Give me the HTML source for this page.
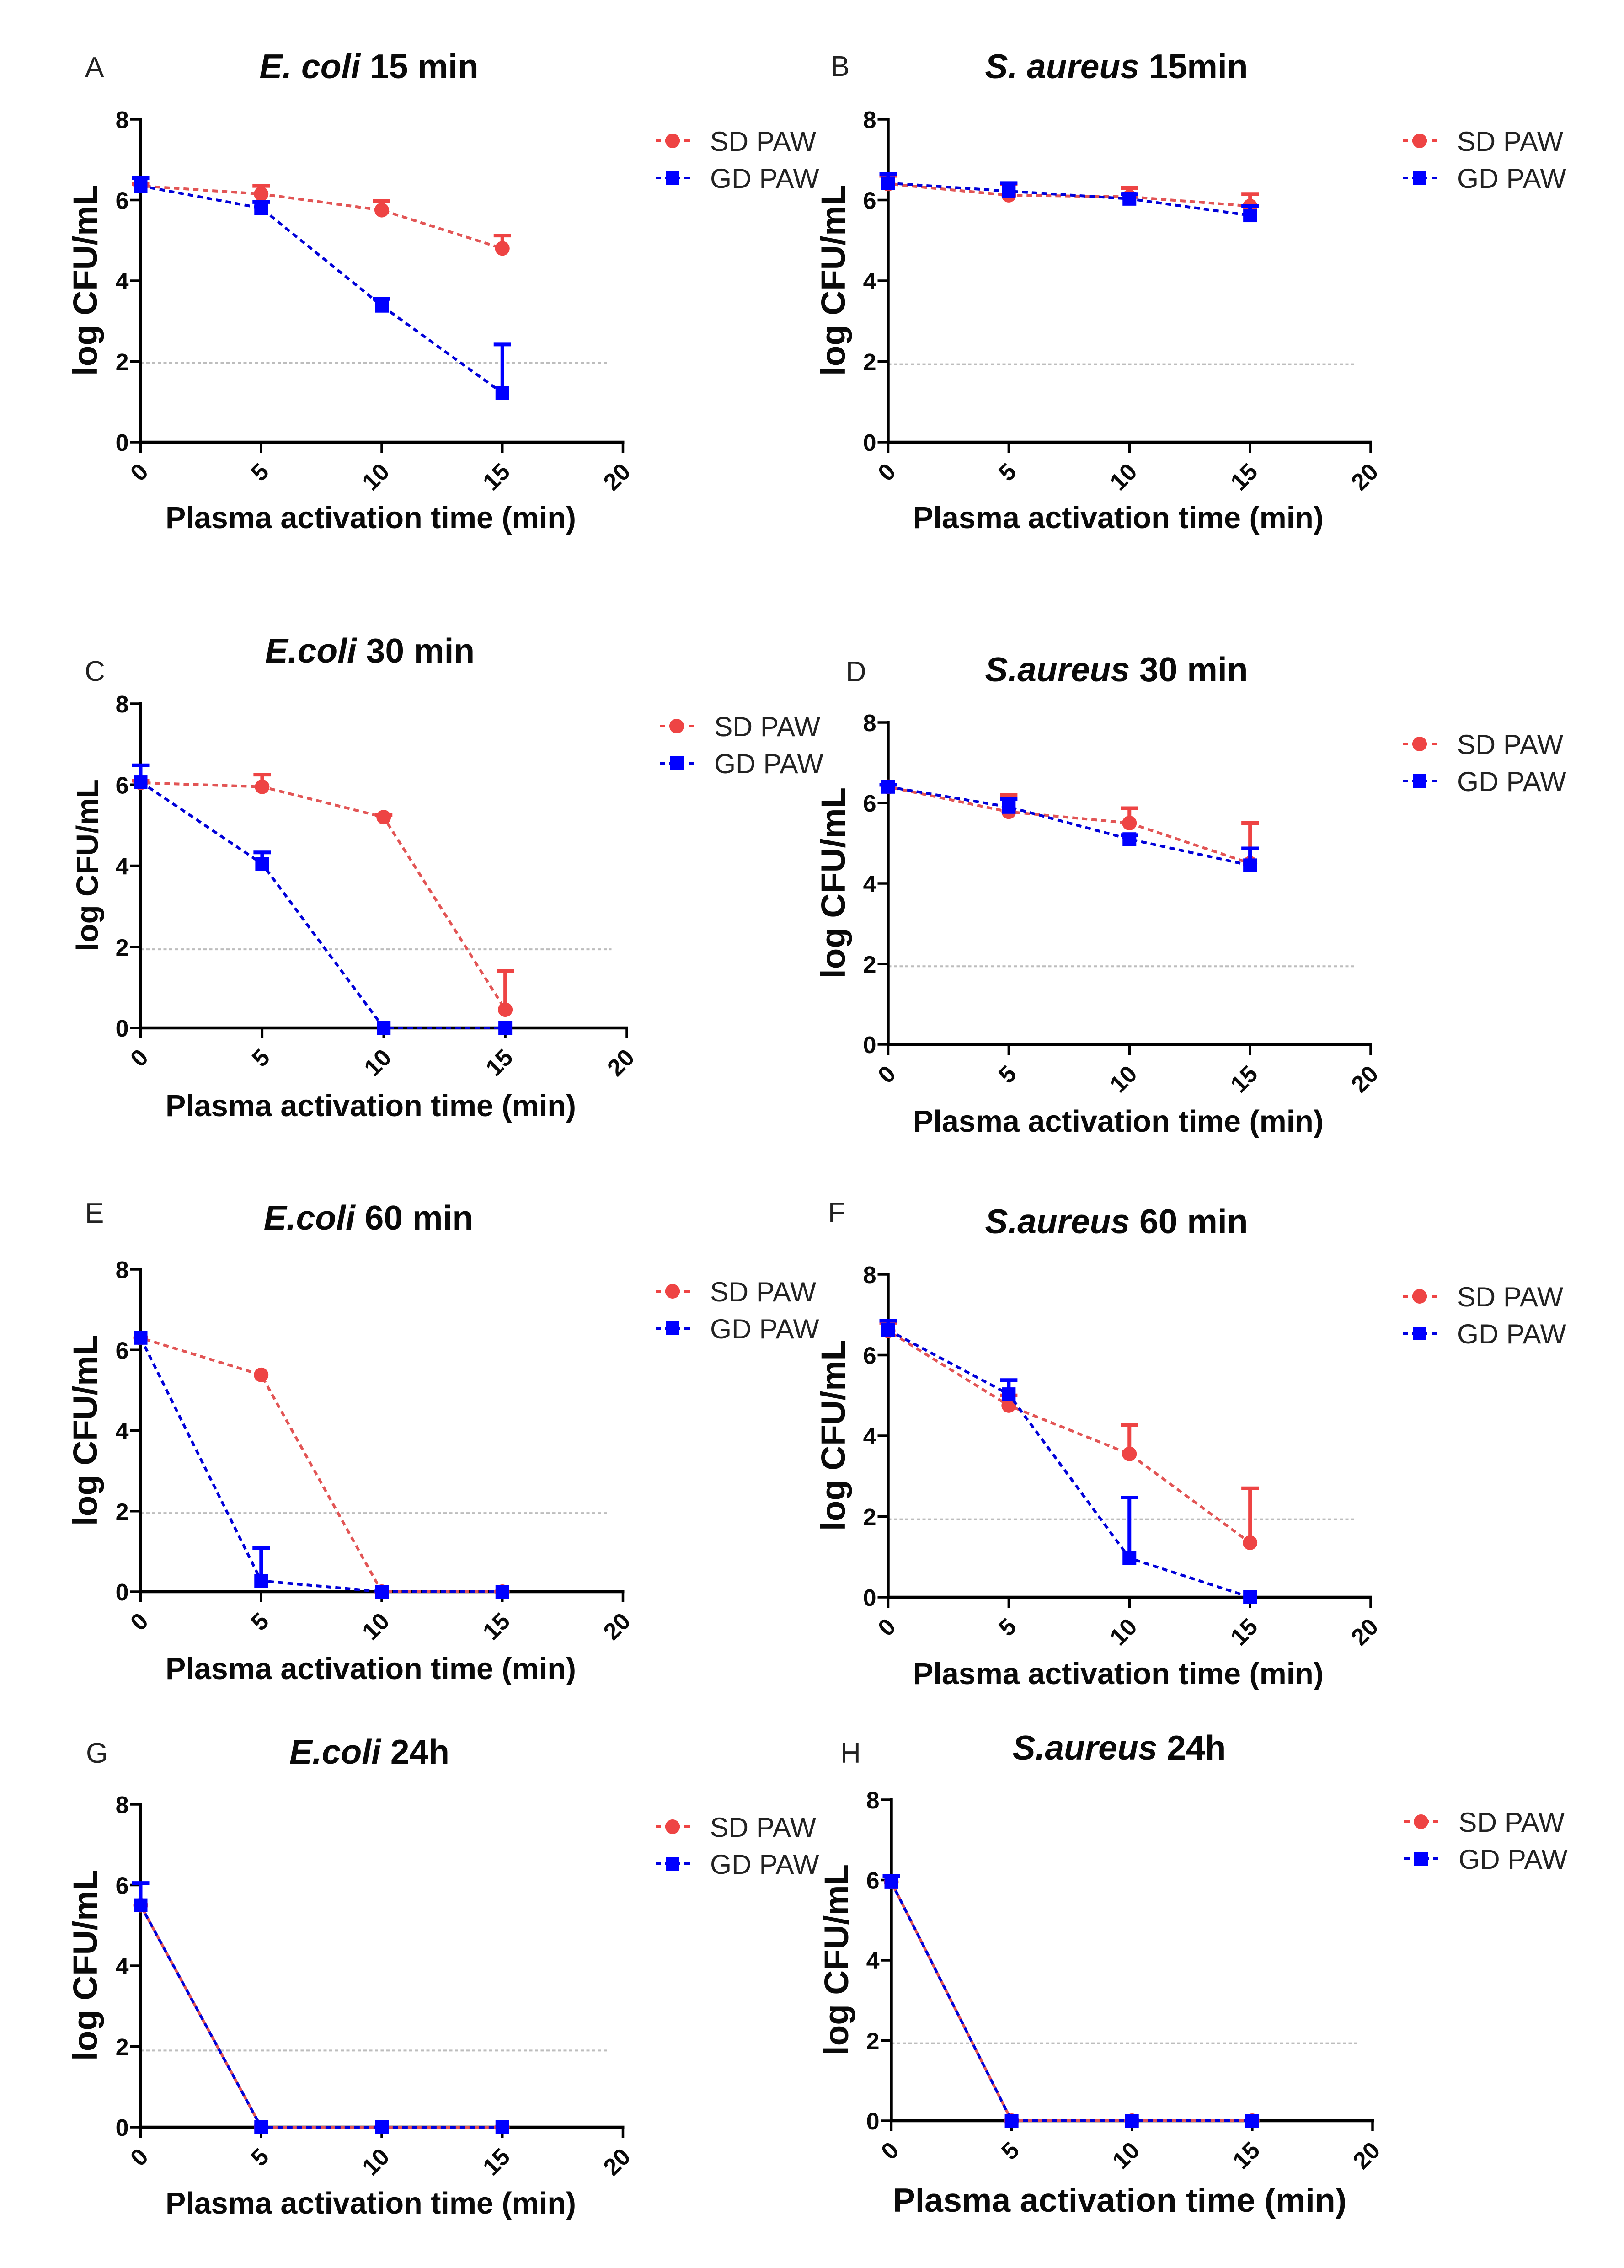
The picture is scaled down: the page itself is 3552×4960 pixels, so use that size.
<!DOCTYPE html>
<html lang="en">
<head>
<meta charset="utf-8">
<title>Bacterial survival versus plasma activation time</title>
<style>
html,body{margin:0;padding:0;background:#fff;}
svg{display:block;}
text{font-family:"Liberation Sans",Arial,sans-serif;fill:#0a0a0a;}
.letter{font-size:62px;fill:#222;}
.title{font-size:75px;font-weight:bold;text-anchor:middle;}
.title tspan.sp{font-style:italic;}
.xtitle{font-size:66.5px;font-weight:bold;text-anchor:middle;}
.ytitle{font-size:74.5px;font-weight:bold;text-anchor:middle;}
.legtext{font-size:60.5px;fill:#222;}
.tick{font-size:52px;font-weight:bold;}
.lg-r{stroke:#ee4444;stroke-width:6;stroke-dasharray:12 9;fill:none;}
.lg-b{stroke:#0000e0;stroke-width:6;stroke-dasharray:12 9;fill:none;}
</style>
</head>
<body>
<svg id="figure" xmlns="http://www.w3.org/2000/svg" width="3552" height="4960" viewBox="0 0 3552 4960">
<rect x="0" y="0" width="3552" height="4960" fill="#fff"/>

<g>
<text class="letter" x="186" y="168">A</text>
<text class="title" x="807" y="171"><tspan class="sp">E. coli</tspan> 15 min</text>
<text class="xtitle" x="811" y="1155">Plasma activation time (min)</text>
<text class="ytitle" transform="translate(212 613) rotate(-90)">log CFU/mL</text>
</g>
<g>
<text class="letter" x="1817" y="166">B</text>
<text class="title" x="2442" y="171"><tspan class="sp">S. aureus</tspan> 15min</text>
<text class="xtitle" x="2446" y="1155">Plasma activation time (min)</text>
<text class="ytitle" transform="translate(1848 613) rotate(-90)">log CFU/mL</text>
</g>
<g>
<text class="letter" x="185" y="1489">C</text>
<text class="title" x="809" y="1449"><tspan class="sp">E.coli</tspan> 30 min</text>
<text class="xtitle" x="811" y="2441">Plasma activation time (min)</text>
<text class="ytitle" style="font-size:67px" transform="translate(214 1892) rotate(-90)">log CFU/mL</text>
</g>
<g>
<text class="letter" x="1850" y="1490">D</text>
<text class="title" x="2442" y="1490"><tspan class="sp">S.aureus</tspan> 30 min</text>
<text class="xtitle" x="2446" y="2475">Plasma activation time (min)</text>
<text class="ytitle" transform="translate(1848 1931) rotate(-90)">log CFU/mL</text>
</g>
<g>
<text class="letter" x="186" y="2674">E</text>
<text class="title" x="806" y="2689"><tspan class="sp">E.coli</tspan> 60 min</text>
<text class="xtitle" x="811" y="3672">Plasma activation time (min)</text>
<text class="ytitle" transform="translate(212 3128) rotate(-90)">log CFU/mL</text>
</g>
<g>
<text class="letter" x="1811" y="2673">F</text>
<text class="title" x="2442" y="2697"><tspan class="sp">S.aureus</tspan> 60 min</text>
<text class="xtitle" x="2446" y="3683">Plasma activation time (min)</text>
<text class="ytitle" transform="translate(1848 3139) rotate(-90)">log CFU/mL</text>
</g>
<g>
<text class="letter" x="188" y="3855">G</text>
<text class="title" x="808" y="3857"><tspan class="sp">E.coli</tspan> 24h</text>
<text class="xtitle" x="811" y="4841">Plasma activation time (min)</text>
<text class="ytitle" transform="translate(212 4298) rotate(-90)">log CFU/mL</text>
</g>
<g>
<text class="letter" x="1838" y="3855">H</text>
<text class="title" x="2448" y="3848"><tspan class="sp">S.aureus</tspan> 24h</text>
<text class="xtitle" style="font-size:73.5px" x="2449" y="4837">Plasma activation time (min)</text>
<text class="ytitle" transform="translate(1855 4286) rotate(-90)">log CFU/mL</text>
</g>

<g transform="translate(1471 308)">
<line class="lg-r" x1="-37" y1="0" x2="38" y2="0"/><circle r="16" fill="#ee4444"/>
<text class="legtext" x="82" y="22">SD PAW</text>
<line class="lg-b" x1="-37" y1="81" x2="38" y2="81"/><rect x="-15" y="66" width="30" height="30" fill="#0000ff"/>
<text class="legtext" x="82" y="103">GD PAW</text>
</g>
<g transform="translate(3105 308)">
<line class="lg-r" x1="-37" y1="0" x2="38" y2="0"/><circle r="16" fill="#ee4444"/>
<text class="legtext" x="82" y="22">SD PAW</text>
<line class="lg-b" x1="-37" y1="81" x2="38" y2="81"/><rect x="-15" y="66" width="30" height="30" fill="#0000ff"/>
<text class="legtext" x="82" y="103">GD PAW</text>
</g>
<g transform="translate(1480 1588)">
<line class="lg-r" x1="-37" y1="0" x2="38" y2="0"/><circle r="16" fill="#ee4444"/>
<text class="legtext" x="82" y="22">SD PAW</text>
<line class="lg-b" x1="-37" y1="81" x2="38" y2="81"/><rect x="-15" y="66" width="30" height="30" fill="#0000ff"/>
<text class="legtext" x="82" y="103">GD PAW</text>
</g>
<g transform="translate(3105 1627)">
<line class="lg-r" x1="-37" y1="0" x2="38" y2="0"/><circle r="16" fill="#ee4444"/>
<text class="legtext" x="82" y="22">SD PAW</text>
<line class="lg-b" x1="-37" y1="81" x2="38" y2="81"/><rect x="-15" y="66" width="30" height="30" fill="#0000ff"/>
<text class="legtext" x="82" y="103">GD PAW</text>
</g>
<g transform="translate(1471 2824)">
<line class="lg-r" x1="-37" y1="0" x2="38" y2="0"/><circle r="16" fill="#ee4444"/>
<text class="legtext" x="82" y="22">SD PAW</text>
<line class="lg-b" x1="-37" y1="81" x2="38" y2="81"/><rect x="-15" y="66" width="30" height="30" fill="#0000ff"/>
<text class="legtext" x="82" y="103">GD PAW</text>
</g>
<g transform="translate(3105 2835)">
<line class="lg-r" x1="-37" y1="0" x2="38" y2="0"/><circle r="16" fill="#ee4444"/>
<text class="legtext" x="82" y="22">SD PAW</text>
<line class="lg-b" x1="-37" y1="81" x2="38" y2="81"/><rect x="-15" y="66" width="30" height="30" fill="#0000ff"/>
<text class="legtext" x="82" y="103">GD PAW</text>
</g>
<g transform="translate(1471 3995)">
<line class="lg-r" x1="-37" y1="0" x2="38" y2="0"/><circle r="16" fill="#ee4444"/>
<text class="legtext" x="82" y="22">SD PAW</text>
<line class="lg-b" x1="-37" y1="81" x2="38" y2="81"/><rect x="-15" y="66" width="30" height="30" fill="#0000ff"/>
<text class="legtext" x="82" y="103">GD PAW</text>
</g>
<g transform="translate(3108 3984)">
<line class="lg-r" x1="-37" y1="0" x2="38" y2="0"/><circle r="16" fill="#ee4444"/>
<text class="legtext" x="82" y="22">SD PAW</text>
<line class="lg-b" x1="-37" y1="81" x2="38" y2="81"/><rect x="-15" y="66" width="30" height="30" fill="#0000ff"/>
<text class="legtext" x="82" y="103">GD PAW</text>
</g>
</svg>

<script>
// Shared axis data
const timePoints = [0, 5, 10, 15];
const xTickValues = [0, 5, 10, 15, 20];
const yTickValues = [0, 2, 4, 6, 8];
const xMax = 20;
const yMax = 8;
const thresholdEnd = 19.37;

// Panel A: E. coli 15 min
const aSd = [6.35, 6.15, 5.75, 4.8];
const aSdTop = [6.4, 6.35, 5.98, 5.12];
const aGd = [6.35, 5.8, 3.38, 1.22];
const aGdTop = [6.55, 5.95, 3.55, 2.42];
const aThreshold = 1.97;
// Panel B: S. aureus 15 min
const bSd = [6.4, 6.12, 6.08, 5.85];
const bSdTop = [6.6, 6.4, 6.3, 6.15];
const bGd = [6.42, 6.22, 6.03, 5.62];
const bGdTop = [6.65, 6.42, 6.15, 5.85];
const bThreshold = 1.93;
// Panel C: E. coli 30 min
const cSd = [6.05, 5.95, 5.2, 0.45];
const cSdTop = [6.1, 6.25, 5.25, 1.4];
const cGd = [6.07, 4.05, 0, 0];
const cGdTop = [6.48, 4.33, 0, 0];
const cThreshold = 1.94;
// Panel D: S. aureus 30 min
const dSd = [6.4, 5.78, 5.5, 4.5];
const dSdTop = [6.45, 6.2, 5.87, 5.5];
const dGd = [6.4, 5.9, 5.1, 4.45];
const dGdTop = [6.45, 6.1, 5.2, 4.87];
const dThreshold = 1.94;
// Panel E: E. coli 60 min
const eSd = [6.3, 5.38, 0, 0];
const eSdTop = [6.3, 5.38, 0, 0];
const eGd = [6.3, 0.27, 0, 0];
const eGdTop = [6.3, 1.08, 0, 0];
const eThreshold = 1.95;
// Panel F: S. aureus 60 min
const fSd = [6.6, 4.75, 3.55, 1.35];
const fSdTop = [6.8, 5.0, 4.27, 2.7];
const fGd = [6.62, 5.03, 0.97, 0];
const fGdTop = [6.85, 5.38, 2.47, 0];
const fThreshold = 1.93;
// Panel G: E. coli 24 h
const gSd = [5.5, 0, 0, 0];
const gSdTop = [5.5, 0, 0, 0];
const gGd = [5.5, 0, 0, 0];
const gGdTop = [6.05, 0, 0, 0];
const gThreshold = 1.9;
// Panel H: S. aureus 24 h
const hSd = [5.95, 0, 0, 0];
const hSdTop = [5.95, 0, 0, 0];
const hGd = [5.95, 0, 0, 0];
const hGdTop = [6.1, 0, 0, 0];
const hThreshold = 1.93;

const SVG_NS = 'http://www.w3.org/2000/svg';
const figure = document.getElementById('figure');

function mk(tag, attrs, parent) {
  const el = document.createElementNS(SVG_NS, tag);
  for (const k in attrs) el.setAttribute(k, attrs[k]);
  parent.appendChild(el);
  return el;
}

function drawSeries(g, seriesName, color, lineColor, dashOffset, marker, values, tops, sx, sy) {
  const pts = timePoints.map(function (t, i) { return sx(t) + ',' + sy(values[i]); }).join(' ');
  const line = mk('polyline', {points: pts, fill: 'none', stroke: lineColor, 'stroke-width': 6, 'stroke-dasharray': '12 9', 'stroke-dashoffset': dashOffset}, g);
  
  
  timePoints.forEach(function (t, i) {
    if (tops[i] > values[i]) {
      const bar = mk('line', {x1: sx(t), x2: sx(t), y1: sy(values[i]), y2: sy(tops[i]), stroke: color, 'stroke-width': 8}, g);
      
      
      const cap = mk('line', {x1: sx(t) - 19, x2: sx(t) + 19, y1: sy(tops[i]), y2: sy(tops[i]), stroke: color, 'stroke-width': 8}, g);
      
      
    }
    let m;
    if (marker === 'circle') {
      m = mk('circle', {cx: sx(t), cy: sy(values[i]), r: 16, fill: color}, g);
    } else {
      m = mk('rect', {x: sx(t) - 15, y: sy(values[i]) - 15, width: 30, height: 30, fill: color}, g);
    }
    
    
  });
}

function drawPanel(id, x0, x20, y8, y0, sd, sdTop, gd, gdTop, threshold) {
  const sx = function (v) { return x0 + (x20 - x0) * v / xMax; };
  const sy = function (v) { return y0 - (y0 - y8) * v / yMax; };
  const g = mk('g', {}, figure);
  
  

  const thr = mk('line', {x1: sx(0), x2: sx(thresholdEnd), y1: sy(threshold), y2: sy(threshold), stroke: '#bdbdbd', 'stroke-width': 4, 'stroke-dasharray': '7 5.5'}, g);
  
  

  const yAxis = mk('line', {x1: x0, x2: x0, y1: y8 - 3, y2: y0 + 3, stroke: '#000', 'stroke-width': 6.5}, g);
  
  
  const xAxis = mk('line', {x1: x0 - 3, x2: x20 + 3, y1: y0, y2: y0, stroke: '#000', 'stroke-width': 6.5}, g);
  
  

  yTickValues.forEach(function (v) {
    const tick = mk('line', {x1: x0 - 23, x2: x0, y1: sy(v), y2: sy(v), stroke: '#000', 'stroke-width': 5.5}, g);
    
    
    const label = mk('text', {x: x0 - 26, y: sy(v) + 19, 'text-anchor': 'end', 'class': 'tick'}, g);
    label.textContent = String(v);
    
    
  });
  xTickValues.forEach(function (v) {
    const tick = mk('line', {x1: sx(v), x2: sx(v), y1: y0, y2: y0 + 23, stroke: '#000', 'stroke-width': 5.5}, g);
    
    
    const label = mk('text', {transform: 'translate(' + (sx(v) + 7) + ' ' + (y0 + 55) + ') rotate(-45)', dy: '0.35em', 'text-anchor': 'end', 'class': 'tick'}, g);
    label.textContent = String(v);
    
    
  });

  drawSeries(g, 'sd-paw', '#ee4444', '#e25555', 11, 'circle', sd, sdTop, sx, sy);
  drawSeries(g, 'gd-paw', '#0000ff', '#0000d8', 0, 'square', gd, gdTop, sx, sy);
}

drawPanel('a', 307.5, 1362.5, 261, 967, aSd, aSdTop, aGd, aGdTop, aThreshold);
drawPanel('b', 1942.5, 2998, 261, 967, bSd, bSdTop, bGd, bGdTop, bThreshold);
drawPanel('c', 307.5, 1371, 1539, 2248, cSd, cSdTop, cGd, cGdTop, cThreshold);
drawPanel('d', 1942.5, 2998, 1580, 2284, dSd, dSdTop, dGd, dGdTop, dThreshold);
drawPanel('e', 307.5, 1362.5, 2776, 3481, eSd, eSdTop, eGd, eGdTop, eThreshold);
drawPanel('f', 1942.5, 2998, 2787, 3493, fSd, fSdTop, fGd, fGdTop, fThreshold);
drawPanel('g', 307.5, 1362.5, 3946, 4652, gSd, gSdTop, gGd, gGdTop, gThreshold);
drawPanel('h', 1949.5, 3002, 3936, 4638, hSd, hSdTop, hGd, hGdTop, hThreshold);
</script>
</body>
</html>
